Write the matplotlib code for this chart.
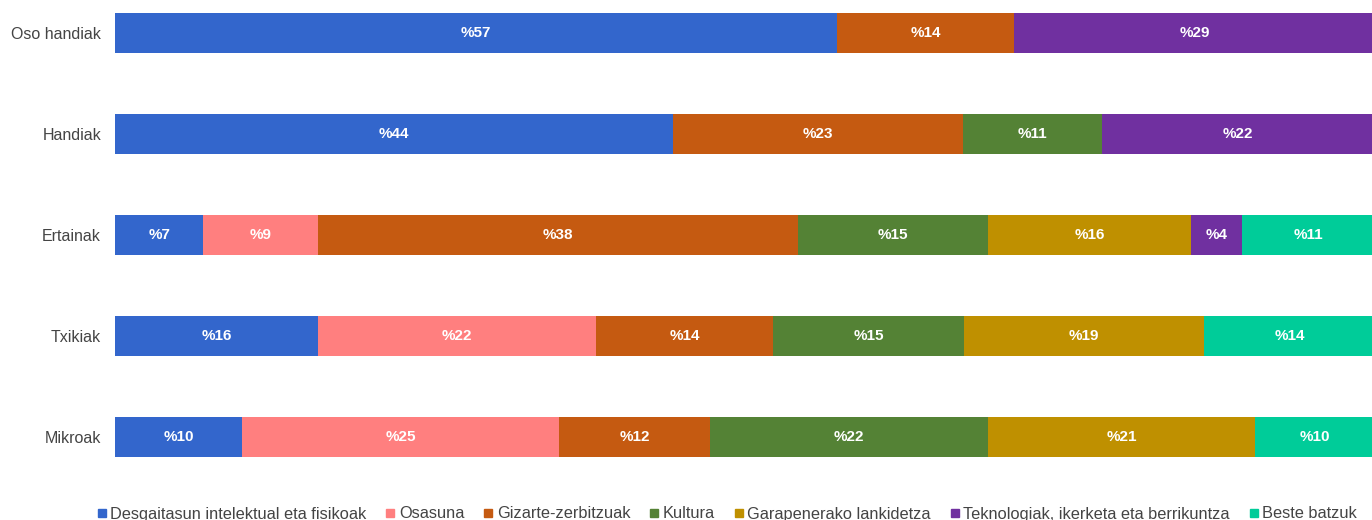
import matplotlib.pyplot as plt
import numpy as np
from matplotlib.lines import Line2D

plt.rcParams["font.family"] = ["Liberation Sans", "DejaVu Sans"]

categories = ["Oso handiak", "Handiak", "Ertainak", "Txikiak", "Mikroak"]
series_names = [
    "Desgaitasun intelektual eta fisikoak",
    "Osasuna",
    "Gizarte-zerbitzuak",
    "Kultura",
    "Garapenerako lankidetza",
    "Teknologiak, ikerketa eta berrikuntza",
    "Beste batzuk",
]
colors = ["#3366CC", "#FF7F7F", "#C55A11", "#548235", "#BF9000", "#7030A0", "#00CC99"]

# one list per series, in category order (estimated shares, %)
desgaitasun = [57.3, 44.3, 7.0, 16.1, 10.1]
osasuna = [0, 0, 9.1, 22.1, 25.1]
gizarte = [14.05, 23.0, 38.1, 14.05, 12.05]
kultura = [0, 11.0, 15.1, 15.1, 22.05]
garapen = [0, 0, 16.1, 19.1, 21.2]
teknologia = [28.65, 21.7, 4.05, 0, 0]
beste = [0, 0, 10.55, 13.55, 9.5]

values = [desgaitasun, osasuna, gizarte, kultura, garapen, teknologia, beste]

fig = plt.figure(figsize=(13.72, 5.2), dpi=100)
ax = fig.add_axes([115 / 1372, 40 / 520, 1260 / 1372, 480 / 520])

y = np.arange(len(categories))
left = np.zeros(len(categories))
for name, vals, col in zip(series_names, values, colors):
    vals = np.array(vals, dtype=float)
    ax.barh(y, vals, left=left, height=0.4, color=col, label=name)
    for yi, (l, v) in enumerate(zip(left, vals)):
        if v > 0:
            ax.text(l + v / 2, yi, "%" + str(int(round(v))), ha="center", va="center",
                    color="white", fontsize=11, fontweight="bold")
    left += vals

ax.set_xlim(0, 100)
ax.set_ylim(4.426, -0.327)
ax.set_yticks(y)
ax.set_yticklabels(categories, fontsize=11.5, color="#444444")
ax.set_xticks([])
ax.tick_params(axis="y", length=0, pad=10)
for s in ax.spines.values():
    s.set_visible(False)

handles = [Line2D([], [], marker="s", linestyle="none", markersize=5.5,
                  markerfacecolor=c, markeredgecolor=c) for c in colors]
fig.legend(handles, series_names, loc="center", bbox_to_anchor=(0.530, 6 / 520),
           ncol=7, frameon=False, fontsize=11.8, handletextpad=0.25,
           columnspacing=1.18, handlelength=0.55, labelcolor="#444444")

fig.savefig("out.png", dpi=100)
